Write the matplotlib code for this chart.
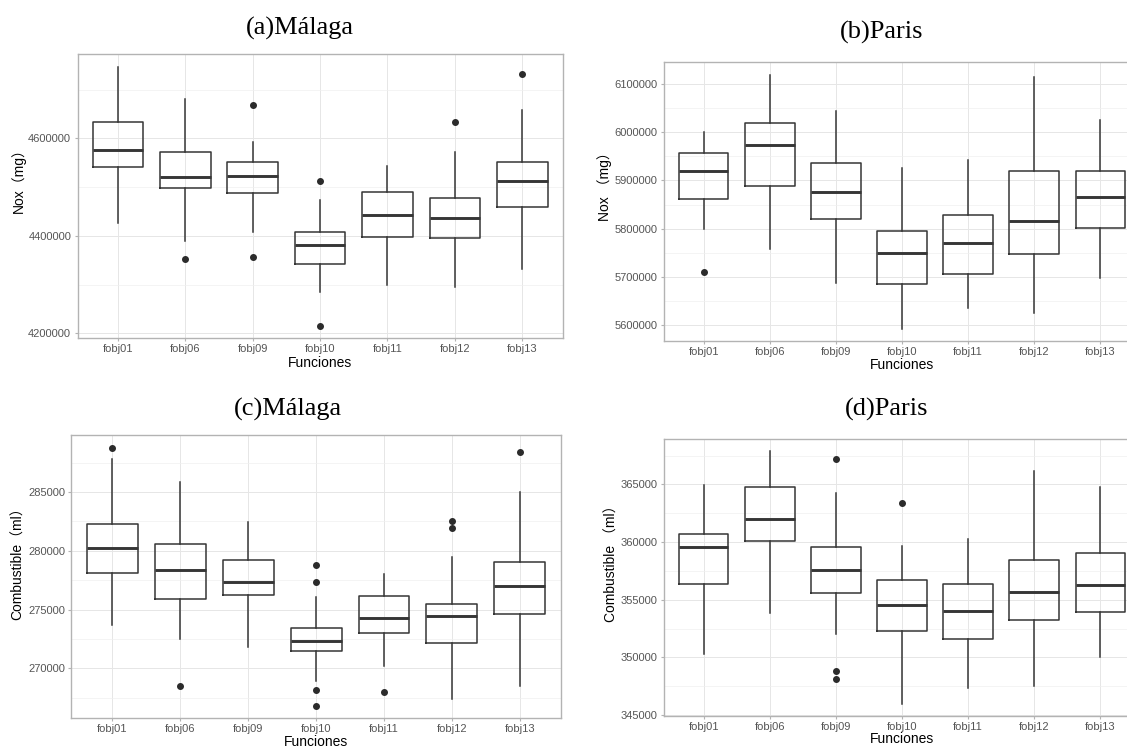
import matplotlib
matplotlib.use("Agg")
import matplotlib.pyplot as plt
from matplotlib.ticker import MultipleLocator

categories = ['fobj01', 'fobj06', 'fobj09', 'fobj10', 'fobj11', 'fobj12', 'fobj13']

# (a) Málaga - Nox
a_whislo = [4426000, 4390000, 4407000, 4284000, 4300000, 4294000, 4332000]
a_q1 = [4540600, 4499000, 4487400, 4342000, 4396600, 4395200, 4460000]
a_med = [4576800, 4520100, 4522200, 4380200, 4443700, 4436900, 4511900]
a_q3 = [4633400, 4572700, 4550900, 4407500, 4489400, 4477800, 4550900]
a_whishi = [4746800, 4681200, 4593200, 4473700, 4543300, 4571300, 4658000]
a_fliers = [[], [4352900], [4668900, 4355600], [4511900, 4215700], [], [4634100], [4731700]]

# (b) Paris - Nox
b_whislo = [5798500, 5758400, 5686400, 5591700, 5635200, 5624200, 5696800]
b_q1 = [5861400, 5888400, 5819200, 5685000, 5706500, 5747300, 5800500]
b_med = [5920200, 5974100, 5875900, 5748700, 5769400, 5816400, 5865600]
b_q3 = [5956100, 6019800, 5936800, 5794300, 5828200, 5918800, 5919500]
b_whishi = [5999700, 6119400, 6044000, 5925700, 5942300, 6115200, 6025300]
b_fliers = [[5709250], [], [], [], [], [], []]

# (c) Málaga - Combustible
c_whislo = [273700, 272500, 271800, 268900, 270200, 267400, 268500]
c_q1 = [278100, 275900, 276200, 271450, 272970, 272200, 274640]
c_med = [280220, 278380, 277330, 272290, 274270, 274470, 277020]
c_q3 = [282280, 280560, 279230, 273430, 276140, 275440, 279030]
c_whishi = [287770, 285850, 282450, 276030, 278040, 279510, 285000]
c_fliers = [[288760], [268470], [], [278750, 277330, 268130, 266780], [267990], [282540, 281940], [288370]]

# (d) Paris - Combustible
d_whislo = [350300, 353830, 352060, 345990, 347320, 347550, 350070]
d_q1 = [356380, 360050, 355600, 352320, 351630, 353280, 353970]
d_med = [359560, 362020, 357560, 354500, 354060, 355650, 356290]
d_q3 = [360720, 364800, 359590, 356670, 356350, 358460, 359010]
d_whishi = [364910, 367870, 364250, 359650, 360250, 366130, 364800]
d_fliers = [[], [], [367230, 348820, 348160], [363410], [], [], []]

titles = ['(a)Málaga', '(b)Paris', '(c)Málaga', '(d)Paris']
ylabels = ['Nox（mg）', 'Nox （mg）', 'Combustible（ml）', 'Combustible （ml）']
xlabel = 'Funciones'

W, H = 1127, 747
fig = plt.figure(figsize=(W / 100, H / 100), dpi=100)

SANS = ['Liberation Sans', 'Noto Sans CJK SC', 'DejaVu Sans']
SERIF = ['Liberation Serif', 'DejaVu Serif']

panels = [
    dict(data=(a_whislo, a_q1, a_med, a_q3, a_whishi, a_fliers),
         box=(77.5, 562.7, 53.5, 338.0), ylim=(4190400, 4774000), major=200000,
         title_xy=(300, 28), ylab_xy=(18.6, 177), xlab_xy=(320, 363)),
    dict(data=(b_whislo, b_q1, b_med, b_q3, b_whishi, b_fliers),
         box=(664.0, 1140.0, 61.7, 341.0), ylim=(5566800, 6146300), major=100000,
         title_xy=(882, 32), ylab_xy=(605, 183), xlab_xy=(902, 365)),
    dict(data=(c_whislo, c_q1, c_med, c_q3, c_whishi, c_fliers),
         box=(71.4, 560.7, 435.0, 718.0), ylim=(265785, 289840), major=5000,
         title_xy=(288, 409), ylab_xy=(18, 560), xlab_xy=(316, 742)),
    dict(data=(d_whislo, d_q1, d_med, d_q3, d_whishi, d_fliers),
         box=(664.0, 1140.0, 439.0, 716.0), ylim=(344916, 368936), major=5000,
         title_xy=(887, 409), ylab_xy=(612, 560), xlab_xy=(902, 739)),
]

box_col = '#363636'
for i, p in enumerate(panels):
    l, r, t, b = p['box']
    ax = fig.add_axes([l / W, 1 - b / H, (r - l) / W, (b - t) / H])
    wl, q1, md, q3, wh, fl = p['data']
    stats = []
    for k in range(len(categories)):
        stats.append(dict(whislo=wl[k], q1=q1[k], med=md[k], q3=q3[k],
                          whishi=wh[k], fliers=fl[k], label=categories[k]))
    ax.bxp(stats, positions=range(len(categories)), widths=0.75,
           showcaps=False, patch_artist=False,
           boxprops=dict(color=box_col, linewidth=1.1),
           whiskerprops=dict(color=box_col, linewidth=1.1),
           medianprops=dict(color=box_col, linewidth=2.1),
           flierprops=dict(marker='o', markersize=4.0, markerfacecolor='#2b2b2b',
                           markeredgecolor='#2b2b2b', linestyle='none'),
           zorder=3)
    ax.set_xlim(-0.6, len(categories) - 0.4)
    ax.set_ylim(*p['ylim'])
    ax.yaxis.set_major_locator(MultipleLocator(p['major']))
    ax.yaxis.set_minor_locator(MultipleLocator(p['major'] / 2))
    ax.set_xticks(range(len(categories)))
    ax.set_xticklabels(categories)
    ax.grid(True, which='major', color='#E6E6E6', linewidth=0.7, zorder=0)
    ax.grid(True, which='minor', axis='y', color='#F0F0F0', linewidth=0.5, zorder=0)
    ax.set_axisbelow(True)
    for s in ax.spines.values():
        s.set_color('#B3B3B3')
        s.set_linewidth(1.0)
    ax.tick_params(axis='both', which='major', length=2.5, width=0.8, color='#B3B3B3',
                   labelcolor='#555555', labelsize=8, pad=2)
    ax.tick_params(axis='y', which='minor', length=0)
    for lab in ax.get_xticklabels() + ax.get_yticklabels():
        lab.set_family(SANS)
    ax.yaxis.get_major_formatter().set_scientific(False)
    ax.yaxis.get_major_formatter().set_useOffset(False)

    tx, ty = p['title_xy']
    fig.text(tx / W, 1 - ty / H, titles[i], ha='center', va='center',
             fontsize=19, family=SERIF, color='black')
    yx, yy = p['ylab_xy']
    fig.text(yx / W, 1 - yy / H, ylabels[i], ha='center', va='center', rotation=90,
             fontsize=10, family=SANS, color='black')
    xx, xy = p['xlab_xy']
    fig.text(xx / W, 1 - xy / H, xlabel, ha='center', va='center',
             fontsize=10, family=SANS, color='black')

fig.savefig('out.png', dpi=100)
